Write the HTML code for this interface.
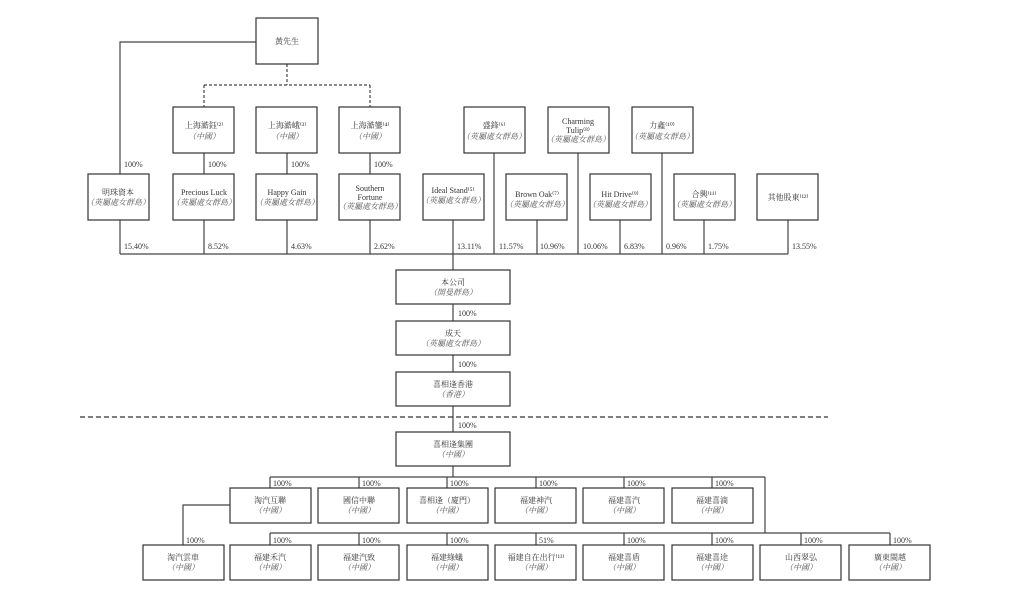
<!DOCTYPE html><html><head><meta charset="utf-8"><style>body{margin:0;background:#fff}svg{display:block}text{font-family:"Liberation Serif","Noto Serif CJK SC",serif;font-size:8px;fill:#333}.i{font-style:italic;fill:#555}.p{font-size:8px;fill:#222}</style></head><body>
<svg width="1013" height="604" viewBox="0 0 1013 604" xmlns="http://www.w3.org/2000/svg">
<g stroke="#444" stroke-width="1.2" fill="none">
<path d="M256 42H120V174"/>
<path d="M287 64V85M204 85H370M204 85V107M370 85V107" stroke-dasharray="3,2"/>
<path d="M204 153V174M287 153V174M370 153V174"/>
<path d="M120 220V254M204 220V254M287 220V254M370 220V254M453 220V270M537 220V254M620 220V254M704 220V254M788 220V254"/>
<path d="M494 153V254M578 153V254M662 153V254M120 254H788"/>
<path d="M453 304V321M453 355V372M453 406V432M453 466V477M270 477H765M765 477V533"/>
<path d="M270 477V488M359 477V488M447 477V488M536 477V488M624 477V488M712 477V488"/>
<path d="M270 533H890M270 533V545M359 533V545M447 533V545M536 533V545M624 533V545M712 533V545M801 533V545M890 533V545"/>
<path d="M230 505H183V545"/>
</g>
<path d="M80 417H828" stroke="#333" stroke-width="1.2" stroke-dasharray="5,3"/>
<g stroke="#333" stroke-width="1.2" fill="#fff">
<rect x="256" y="18" width="62" height="46"/>
<rect x="173" y="107" width="61" height="46"/><rect x="256" y="107" width="61" height="46"/><rect x="339" y="107" width="61" height="46"/>
<rect x="464" y="107" width="61" height="46"/><rect x="548" y="107" width="61" height="46"/><rect x="632" y="107" width="61" height="46"/>
<rect x="88" y="174" width="61" height="46"/><rect x="173" y="174" width="61" height="46"/><rect x="256" y="174" width="61" height="46"/><rect x="339" y="174" width="61" height="46"/><rect x="423" y="174" width="61" height="46"/><rect x="506" y="174" width="61" height="46"/><rect x="590" y="174" width="61" height="46"/><rect x="674" y="174" width="61" height="46"/><rect x="757" y="174" width="61" height="46"/>
<rect x="396" y="270" width="114" height="34"/><rect x="396" y="321" width="114" height="34"/><rect x="396" y="372" width="114" height="34"/><rect x="396" y="432" width="114" height="34"/>
<rect x="230" y="488" width="81" height="35"/><rect x="318" y="488" width="81" height="35"/><rect x="407" y="488" width="81" height="35"/><rect x="495" y="488" width="81" height="35"/><rect x="583" y="488" width="81" height="35"/><rect x="672" y="488" width="81" height="35"/>
<rect x="143" y="545" width="81" height="35"/><rect x="230" y="545" width="81" height="35"/><rect x="318" y="545" width="81" height="35"/><rect x="407" y="545" width="81" height="35"/><rect x="495" y="545" width="81" height="35"/><rect x="583" y="545" width="81" height="35"/><rect x="672" y="545" width="81" height="35"/><rect x="760" y="545" width="81" height="35"/><rect x="849" y="545" width="81" height="35"/>
</g>
<g text-anchor="middle">
<text x="287" y="44">黃先生</text>
<text x="204" y="128">上海澔鈺⁽²⁾</text><text class="i" x="204" y="139">（中國）</text>
<text x="287" y="128">上海澔峨⁽³⁾</text><text class="i" x="287" y="139">（中國）</text>
<text x="370" y="128">上海澔鑾⁽⁴⁾</text><text class="i" x="370" y="139">（中國）</text>
<text x="494" y="128">盛鋒⁽⁶⁾</text><text class="i" x="494" y="139">（英屬處女群島）</text>
<text x="578" y="124">Charming</text><text x="578" y="133">Tulip⁽⁸⁾</text><text class="i" x="578" y="142">（英屬處女群島）</text>
<text x="662" y="128">力鑫⁽¹⁰⁾</text><text class="i" x="662" y="139">（英屬處女群島）</text>
<text x="118" y="195">明珠資本</text><text class="i" x="118" y="205">（英屬處女群島）</text>
<text x="204" y="195">Precious Luck</text><text class="i" x="204" y="205">（英屬處女群島）</text>
<text x="287" y="195">Happy Gain</text><text class="i" x="287" y="205">（英屬處女群島）</text>
<text x="370" y="191">Southern</text><text x="370" y="200">Fortune</text><text class="i" x="370" y="209">（英屬處女群島）</text>
<text x="453" y="193">Ideal Stand⁽⁵⁾</text><text class="i" x="453" y="203">（英屬處女群島）</text>
<text x="537" y="197">Brown Oak⁽⁷⁾</text><text class="i" x="537" y="207">（英屬處女群島）</text>
<text x="620" y="197">Hit Drive⁽⁹⁾</text><text class="i" x="620" y="207">（英屬處女群島）</text>
<text x="704" y="197">合興⁽¹¹⁾</text><text class="i" x="704" y="207">（英屬處女群島）</text>
<text x="788" y="200">其他股東⁽¹²⁾</text>
<text x="453" y="285">本公司</text><text class="i" x="453" y="295">（開曼群島）</text>
<text x="453" y="336">成天</text><text class="i" x="453" y="346">（英屬處女群島）</text>
<text x="453" y="387">喜相逢香港</text><text class="i" x="453" y="397">（香港）</text>
<text x="453" y="447">喜相逢集團</text><text class="i" x="453" y="457">（中國）</text>
<text x="270" y="503">淘汽互聯</text><text class="i" x="270" y="513">（中國）</text>
<text x="359" y="503">國信中聯</text><text class="i" x="359" y="513">（中國）</text>
<text x="447" y="503">喜相逢（廈門）</text><text class="i" x="447" y="513">（中國）</text>
<text x="536" y="503">福建神汽</text><text class="i" x="536" y="513">（中國）</text>
<text x="624" y="503">福建喜汽</text><text class="i" x="624" y="513">（中國）</text>
<text x="712" y="503">福建喜滴</text><text class="i" x="712" y="513">（中國）</text>
<text x="183" y="560">淘汽雲車</text><text class="i" x="183" y="570">（中國）</text>
<text x="270" y="560">福建禾汽</text><text class="i" x="270" y="570">（中國）</text>
<text x="359" y="560">福建汽致</text><text class="i" x="359" y="570">（中國）</text>
<text x="447" y="560">福建綠蟻</text><text class="i" x="447" y="570">（中國）</text>
<text x="536" y="560">福建自在出行⁽¹³⁾</text><text class="i" x="536" y="570">（中國）</text>
<text x="624" y="560">福建喜盾</text><text class="i" x="624" y="570">（中國）</text>
<text x="712" y="560">福建喜途</text><text class="i" x="712" y="570">（中國）</text>
<text x="801" y="560">山西翠弘</text><text class="i" x="801" y="570">（中國）</text>
<text x="890" y="560">廣東閩越</text><text class="i" x="890" y="570">（中國）</text>
</g>
<g class="p">
<text x="124" y="167">100%</text><text x="208" y="167">100%</text><text x="291" y="167">100%</text><text x="374" y="167">100%</text>
<text x="124" y="249">15.40%</text><text x="208" y="249">8.52%</text><text x="291" y="249">4.63%</text><text x="374" y="249">2.62%</text><text x="457" y="249">13.11%</text><text x="499" y="249">11.57%</text><text x="540" y="249">10.96%</text><text x="583" y="249">10.06%</text><text x="624" y="249">6.83%</text><text x="666" y="249">0.96%</text><text x="708" y="249">1.75%</text><text x="792" y="249">13.55%</text>
<text x="458" y="316">100%</text><text x="458" y="367">100%</text><text x="458" y="428">100%</text>
<text x="273" y="486">100%</text><text x="362" y="486">100%</text><text x="450" y="486">100%</text><text x="539" y="486">100%</text><text x="627" y="486">100%</text><text x="715" y="486">100%</text>
<text x="186" y="543">100%</text><text x="273" y="543">100%</text><text x="362" y="543">100%</text><text x="450" y="543">100%</text><text x="539" y="543">51%</text><text x="627" y="543">100%</text><text x="715" y="543">100%</text><text x="804" y="543">100%</text><text x="893" y="543">100%</text>
</g>
</svg></body></html>
